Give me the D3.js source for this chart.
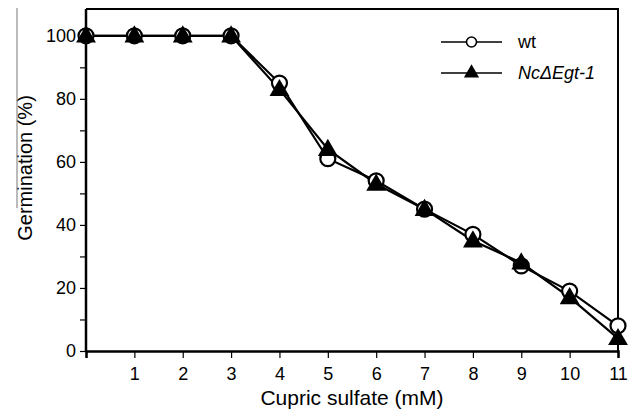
<!DOCTYPE html>
<html>
<head>
<meta charset="utf-8">
<script src="https://cdn.jsdelivr.net/npm/d3@7"></script>
<style>
  body { margin: 0; background: #fff; }
  text { font-family: "Liberation Sans", Arial, sans-serif; fill: #000; }
</style>
</head>
<body>
<svg id="chart" width="636" height="415"></svg>
<script>
var concentration = [0, 1, 2, 3, 4, 5, 6, 7, 8, 9, 10, 11]
var wtValues = [100, 100, 100, 100, 85, 61, 54, 45, 37, 27, 19, 8]
var mutantValues = [100, 100, 100, 100, 83, 64, 53, 45, 35, 28, 17, 4]
var xTicks = [0, 1, 2, 3, 4, 5, 6, 7, 8, 9, 10, 11]
var yTicks = [0, 10, 20, 30, 40, 50, 60, 70, 80, 90, 100]
var seriesNames = ["wt", "NcΔEgt-1"]

var svg = d3.select("#chart")
var mLeft = 86, mRight = 618, mTop = 9, mBottom = 351

var x = d3.scaleLinear().domain([0, 11]).range([mLeft, mRight])
var y = d3.scaleLinear().domain([0, 108.5]).range([mBottom, mTop])

// frame (top + right)
svg.append("path")
    .attr("d", "M" + mLeft + "," + mTop + "H" + mRight + "V" + mBottom)
    .attr("fill", "none")
    .attr("stroke", "#000")
    .attr("stroke-width", 2)

var xAxis = svg.append("g")
    .attr("transform", "translate(0," + mBottom + ")")
    .attr("font-family", null)
    .call(d3.axisBottom(x).tickValues(xTicks).tickSize(7).tickPadding(9)
        .tickFormat(function(d) { return d === 0 ? "" : d }))
xAxis.attr("font-family", null)
xAxis.select(".domain").attr("stroke-width", 2.5)
xAxis.selectAll(".tick line").attr("stroke-width", 1.2)
xAxis.selectAll("text").attr("font-size", 18)

var yAxis = svg.append("g")
    .attr("transform", "translate(" + mLeft + ",0)")
    .call(d3.axisLeft(y).tickValues(yTicks).tickSize(6).tickPadding(4)
        .tickFormat(function(d) { return d % 20 === 0 ? d : "" }))
yAxis.attr("font-family", null)
yAxis.select(".domain").attr("d", "M0," + mBottom + "V" + mTop).attr("stroke-width", 2.5)
yAxis.selectAll(".tick line").attr("stroke-width", 1.2)
yAxis.selectAll("text").attr("font-size", 18)

svg.append("text")
    .attr("x", 352).attr("y", 405)
    .attr("text-anchor", "middle")
    .attr("font-size", 21)
    .text("Cupric sulfate (mM)")

svg.append("text")
    .attr("transform", "translate(32,168) rotate(-90)")
    .attr("text-anchor", "middle")
    .attr("font-size", 20)
    .text("Germination (%)")

// stray line beside the y title in the original
svg.append("line")
    .attr("x1", 17).attr("x2", 17).attr("y1", 8).attr("y2", 208)
    .attr("stroke", "#777").attr("stroke-width", 1)

var line = d3.line()
    .x(function(d, i) { return x(concentration[i]) })
    .y(function(d) { return y(d) })

var tri = d3.symbol().type(d3.symbolTriangle).size(170)

svg.append("path").datum(wtValues)
    .attr("d", line).attr("fill", "none").attr("stroke", "#000").attr("stroke-width", 2.2)
svg.append("path").datum(mutantValues)
    .attr("d", line).attr("fill", "none").attr("stroke", "#000").attr("stroke-width", 2.2)

svg.selectAll(".wt").data(wtValues).enter().append("circle")
    .attr("class", "wt")
    .attr("cx", function(d, i) { return x(concentration[i]) })
    .attr("cy", function(d) { return y(d) })
    .attr("r", 7.5)
    .attr("fill", "#fff").attr("stroke", "#000").attr("stroke-width", 2.2)

svg.selectAll(".mut").data(mutantValues).enter().append("path")
    .attr("class", "mut")
    .attr("d", tri)
    .attr("transform", function(d, i) {
        return "translate(" + x(concentration[i]) + "," + (y(d) + 1) + ")"
    })
    .attr("fill", "#000")

// legend
var legend = svg.append("g").attr("transform", "translate(441,42)")
var items = legend.selectAll("g").data(seriesNames).enter().append("g")
    .attr("transform", function(d, i) { return "translate(0," + i * 31 + ")" })
items.append("line").attr("x1", 0).attr("x2", 61)
    .attr("stroke", "#000").attr("stroke-width", 1.6)
items.filter(function(d, i) { return i === 0 }).append("circle")
    .attr("cx", 30.5).attr("r", 5)
    .attr("fill", "#fff").attr("stroke", "#000").attr("stroke-width", 1.6)
items.filter(function(d, i) { return i === 1 }).append("path")
    .attr("d", d3.symbol().type(d3.symbolTriangle).size(100))
    .attr("transform", "translate(30.5,0)")
    .attr("fill", "#000")
items.append("text")
    .attr("x", 77).attr("dy", "0.35em")
    .attr("font-size", 18)
    .attr("font-style", function(d, i) { return i === 1 ? "italic" : "normal" })
    .text(function(d) { return d })
</script>
</body>
</html>
